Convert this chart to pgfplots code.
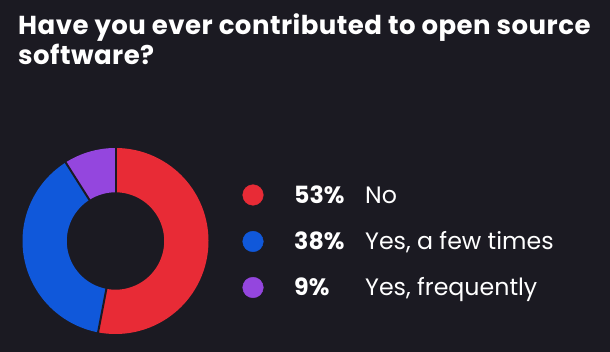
\documentclass[border=0pt]{standalone}
\usepackage{pgfplots}
\pgfplotsset{compat=1.18}
\usepackage{fontspec}
\setmainfont{Poppins}
\newfontfamily\titlefont[LetterSpace=1.8]{Poppins}
\definecolor{bg}{RGB}{27,26,34}
\definecolor{cred}{RGB}{232,43,54}
\definecolor{cblue}{RGB}{16,88,218}
\definecolor{cpurple}{RGB}{148,70,222}
% data (percent)
\def\vA{53}\def\vB{38}\def\vC{9}
\pgfmathsetmacro{\aA}{90}
\pgfmathsetmacro{\aB}{90-3.6*\vA}
\pgfmathsetmacro{\aC}{90-3.6*(\vA+\vB)}
\pgfmathsetmacro{\aD}{90-3.6*(\vA+\vB+\vC)}
\def\cx{115.5}\def\cy{241}
\def\rmid{70.85}
\begin{document}
\begin{tikzpicture}
\fill[bg] (0,0) rectangle (610pt,352pt);
\begin{axis}[
  at={(0,0)}, anchor=south west,
  width=610pt, height=352pt, scale only axis,
  xmin=0, xmax=610, ymin=0, ymax=352, y dir=reverse,
  hide axis, clip=false,
]
% donut ring
\addplot[cred, line width=44.3pt, domain=\aA:\aB, samples=120, variable=\t, mark=none]
  ({\cx+\rmid*cos(\t)},{\cy-\rmid*sin(\t)});
\addplot[cblue, line width=44.3pt, domain=\aB:\aC, samples=100, variable=\t, mark=none]
  ({\cx+\rmid*cos(\t)},{\cy-\rmid*sin(\t)});
\addplot[cpurple, line width=44.3pt, domain=\aC:\aD, samples=40, variable=\t, mark=none]
  ({\cx+\rmid*cos(\t)},{\cy-\rmid*sin(\t)});
% separators
\foreach \a in {\aA,\aB,\aC}{
  \addplot[bg, line width=2pt, domain=47:95, samples=2, variable=\r, mark=none]
    ({\cx+\r*cos(\a)},{\cy-\r*sin(\a)});
}
% legend markers
\addplot[only marks, mark=*, mark size=10.3pt, cred, mark options={draw=none}] coordinates {(253,195)};
\addplot[only marks, mark=*, mark size=10.3pt, cblue, mark options={draw=none}] coordinates {(253,241.5)};
\addplot[only marks, mark=*, mark size=10.3pt, cpurple, mark options={draw=none}] coordinates {(253,287.5)};
% legend text
\node[anchor=base west, text=white, font=\fontsize{23.7}{23.7}\selectfont\bfseries, inner sep=0pt] at (axis cs:294,203.3) {53\%};
\node[anchor=base west, text=white, font=\fontsize{23.7}{23.7}\selectfont\bfseries, inner sep=0pt] at (axis cs:294,249.5) {38\%};
\node[anchor=base west, text=white, font=\fontsize{23.7}{23.7}\selectfont\bfseries, inner sep=0pt] at (axis cs:294,296) {9\%};
\node[anchor=base west, text=white, font=\fontsize{23.7}{23.7}\selectfont, inner sep=0pt] at (axis cs:365,203.3) {No};
\node[anchor=base west, text=white, font=\fontsize{23.7}{23.7}\selectfont, inner sep=0pt] at (axis cs:365,249.5) {Yes, a few times};
\node[anchor=base west, text=white, font=\fontsize{23.7}{23.7}\selectfont, inner sep=0pt] at (axis cs:365,296) {Yes, frequently};
% title
\node[anchor=base west, text=white, font=\titlefont\fontsize{26}{26}\selectfont\bfseries, inner sep=0pt] at (axis cs:18,34.3) {Have you ever contributed to open source};
\node[anchor=base west, text=white, font=\titlefont\fontsize{26}{26}\selectfont\bfseries, inner sep=0pt] at (axis cs:18,65) {software?};
\end{axis}
\pgfresetboundingbox
\path (0,0) rectangle (610pt,352pt);
\end{tikzpicture}
\end{document}
